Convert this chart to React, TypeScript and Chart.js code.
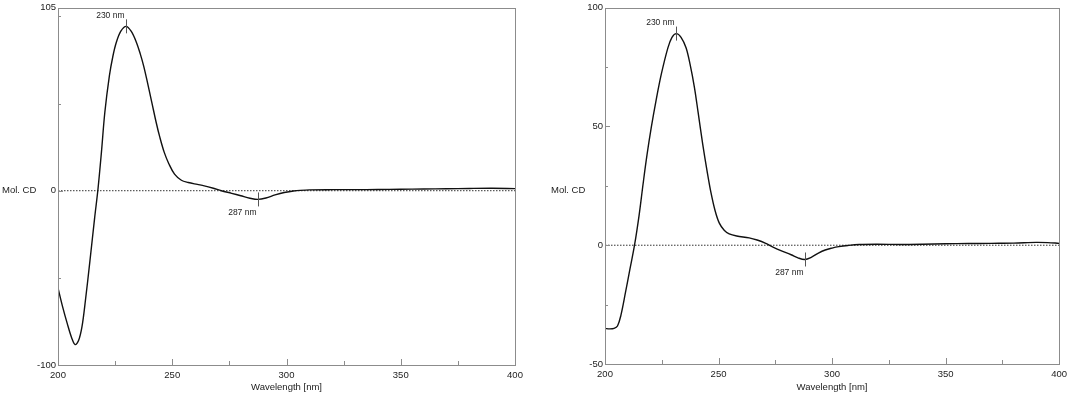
import React, { useEffect, useRef } from "react";
import { Chart, registerables } from "chart.js";

Chart.register(...registerables);

// ---------- data ----------
const leftWavelengths = [
  200, 202, 204, 206, 207.5, 209, 210.5, 212, 214, 216, 217.5, 219, 220.5, 222.5, 224, 225.5, 227.5,
  229.8, 232, 234.2, 236, 237.5, 239, 241, 243, 244.5, 246.5, 248.5, 251, 254, 257, 261, 264, 268,
  271.5, 276, 280, 284, 287.5, 291, 295, 299, 303, 306, 310, 320, 330, 340, 350, 360, 370, 380, 390, 400,
];
const leftMolCD = [
  -55.8, -66.5, -76, -84.5, -88.3, -86, -78, -63, -40, -16, 1, 22, 45, 66, 77, 85, 91.5,
  94.3, 91.5, 85.5, 78.5, 71.5, 63, 51, 39, 31, 22, 15.5, 9.5, 6, 4.7, 3.6, 2.8, 1.4,
  0, -1.5, -2.9, -4.3, -5, -4.2, -2.4, -1, -0.2, 0.2, 0.5, 0.6, 0.6, 0.7, 0.8, 1.0, 1.1, 1.3, 1.4, 1.2,
];

const rightWavelengths = [
  200, 202, 204, 205.5, 207, 209, 211, 213, 215, 216.8, 218.5, 220.4, 222.5, 224.8, 227.7, 229.5,
  231.4, 233.5, 235.7, 237.5, 239.4, 241, 243, 245, 246.7, 248.5, 250.3, 252.5, 254.7, 258, 263.5,
  267, 270.8, 274, 278, 282, 285, 288, 291, 294, 297, 300, 303, 307, 312, 320, 330, 340, 350, 360,
  370, 380, 390, 395, 400,
];
const rightMolCD = [
  -35, -35.2, -35, -34, -29.5, -20, -10, 0, 12.5, 26, 38, 49.7, 61, 72, 83.1, 87.5,
  89.1, 87.5, 83.1, 76, 66.4, 56, 42.8, 31, 22, 14.5, 9.4, 6.3, 4.8, 3.9, 3.1,
  2.2, 0.8, -0.8, -2.5, -4, -5.3, -6, -5, -3.3, -2, -1.2, -0.6, -0.1, 0.3, 0.4, 0.3, 0.4, 0.6, 0.7,
  0.8, 0.9, 1.2, 1.1, 0.8,
];

const xTickValues = [200, 225, 250, 275, 300, 325, 350, 375, 400];
const xTickLabels = [200, 250, 300, 350, 400];
const leftYTickValues = [-100, -50, 0, 50, 100, 105];
const leftYTickLabels = [-100, 0, 105];
const rightYTickValues = [-50, -25, 0, 25, 50, 75, 100];
const rightYTickLabels = [-50, 0, 50, 100];
const yAxisTitle = "Mol. CD";
const xAxisTitle = "Wavelength [nm]";
const leftMarkers = [
  { wl: 230, label: "230 nm", dir: "up" },
  { wl: 287, label: "287 nm", dir: "down" },
];
const rightMarkers = [
  { wl: 230, label: "230 nm", dir: "up" },
  { wl: 287, label: "287 nm", dir: "down" },
];

const FONT = "'Liberation Sans', Arial, sans-serif";

type Props = {
  wavelengths: number[];
  values: number[];
  yMin: number;
  yMax: number;
  yTicks: number[];
  yLabels: number[];
  markers: { wl: number; label: string; dir: string }[];
  geom: { yWidth: number; xHeight: number; padTop: number; padRight: number; titleX: number; titleDy: number };
};

function CDChart(props: Props) {
  const ref = useRef<HTMLCanvasElement | null>(null);
  useEffect(() => {
    const { wavelengths, values, yMin, yMax, yTicks, yLabels, markers, geom } = props;
    const pts = wavelengths.map((w, i) => ({ x: w, y: values[i] }));
    const zero = [
      { x: xTickValues[0], y: 0 },
      { x: xTickValues[xTickValues.length - 1], y: 0 },
    ];

    const decor = {
      id: "decor",
      afterDatasetsDraw(chart: any) {
        const ctx = chart.ctx;
        const a = chart.chartArea;
        const xs = chart.scales.x;
        const ys = chart.scales.y;
        ctx.save();
        // frame
        ctx.strokeStyle = "#8c8c8c";
        ctx.lineWidth = 1;
        ctx.strokeRect(Math.round(a.left) + 0.5, Math.round(a.top) + 0.5, Math.round(a.right - a.left), Math.round(a.bottom - a.top));
        // inner tick marks
        ctx.beginPath();
        yTicks.forEach((v) => {
          const py = Math.round(ys.getPixelForValue(v)) + 0.5;
          const len = yLabels.includes(v) ? 5 : 3;
          ctx.moveTo(a.left, py);
          ctx.lineTo(a.left + len, py);
        });
        xTickValues.forEach((v) => {
          const px = Math.round(xs.getPixelForValue(v)) + 0.5;
          const len = xTickLabels.includes(v) ? 6 : 4;
          ctx.moveTo(px, a.bottom);
          ctx.lineTo(px, a.bottom - len);
        });
        ctx.stroke();
        // peak markers
        ctx.fillStyle = "#222";
        ctx.font = "8.5px " + FONT;
        ctx.textAlign = "right";
        ctx.textBaseline = "middle";
        markers.forEach((m) => {
          let best = -1;
          wavelengths.forEach((w, i) => {
            if (Math.abs(w - m.wl) <= 5) {
              if (best < 0) best = i;
              else if (m.dir === "up" ? values[i] > values[best] : values[i] < values[best]) best = i;
            }
          });
          const px = Math.round(xs.getPixelForValue(wavelengths[best])) + 0.5;
          const py = ys.getPixelForValue(values[best]);
          ctx.strokeStyle = "#555";
          ctx.beginPath();
          ctx.moveTo(px, py - 7);
          ctx.lineTo(px, py + 7);
          ctx.stroke();
          ctx.fillText(m.label, px - 2, m.dir === "up" ? py - 11 : py + 13);
        });
        // y axis title (horizontal)
        ctx.font = "9.5px " + FONT;
        ctx.textAlign = "left";
        ctx.fillStyle = "#222";
        ctx.fillText(yAxisTitle, geom.titleX, (a.top + a.bottom) / 2 + geom.titleDy);
        ctx.restore();
      },
    };

    const chart = new Chart(ref.current as HTMLCanvasElement, {
      type: "line",
      data: {
        datasets: [
          {
            data: pts,
            borderColor: "#111",
            borderWidth: 1.4,
            pointRadius: 0,
            tension: 0.35,
            fill: false,
          },
          {
            data: zero,
            borderColor: "#333",
            borderWidth: 1,
            borderDash: [1.5, 1.5],
            pointRadius: 0,
            fill: false,
          },
        ],
      },
      options: {
        responsive: false,
        animation: false,
        devicePixelRatio: 1,
        layout: { padding: { top: geom.padTop, right: geom.padRight, left: 0, bottom: 0 } },
        plugins: { legend: { display: false }, tooltip: { enabled: false } },
        scales: {
          x: {
            type: "linear",
            min: 200,
            max: 400,
            grid: { display: false, drawTicks: false },
            border: { display: false },
            afterBuildTicks: (s: any) => {
              s.ticks = xTickValues.map((v) => ({ value: v }));
            },
            afterFit: (s: any) => {
              s.height = geom.xHeight;
            },
            ticks: {
              autoSkip: false,
              maxRotation: 0,
              padding: 5,
              color: "#222",
              font: { family: FONT, size: 9.5 },
              callback: (v: any) => (xTickLabels.includes(Number(v)) ? String(v) : ""),
            },
            title: {
              display: true,
              text: xAxisTitle,
              color: "#222",
              font: { family: FONT, size: 9.5 },
              padding: { top: 0, bottom: 0 },
            },
          },
          y: {
            type: "linear",
            min: yMin,
            max: yMax,
            grid: { display: false, drawTicks: false },
            border: { display: false },
            afterBuildTicks: (s: any) => {
              s.ticks = yTicks.map((v) => ({ value: v }));
            },
            afterFit: (s: any) => {
              s.width = geom.yWidth;
            },
            ticks: {
              autoSkip: false,
              padding: 2,
              color: "#222",
              font: { family: FONT, size: 9.5 },
              callback: (v: any) => (yLabels.includes(Number(v)) ? String(v) : ""),
            },
          },
        },
      },
      plugins: [decor],
    } as any);
    return () => chart.destroy();
  }, []);
  return <canvas ref={ref} width={536} height={393} style={{ display: "block", width: 536, height: 393 }} />;
}

export default function App() {
  return (
    <div style={{ position: "fixed", left: 0, top: 0, width: 1072, height: 393, display: "flex", background: "#fff" }}>
      <CDChart
        wavelengths={leftWavelengths}
        values={leftMolCD}
        yMin={-100}
        yMax={105}
        yTicks={leftYTickValues}
        yLabels={leftYTickLabels}
        markers={leftMarkers}
        geom={{ yWidth: 58, xHeight: 28, padTop: 6, padRight: 21, titleX: 2, titleDy: 4 }}
      />
      <CDChart
        wavelengths={rightWavelengths}
        values={rightMolCD}
        yMin={-50}
        yMax={100}
        yTicks={rightYTickValues}
        yLabels={rightYTickLabels}
        markers={rightMarkers}
        geom={{ yWidth: 69, xHeight: 29, padTop: 7, padRight: 9, titleX: 15, titleDy: 5 }}
      />
    </div>
  );
}
